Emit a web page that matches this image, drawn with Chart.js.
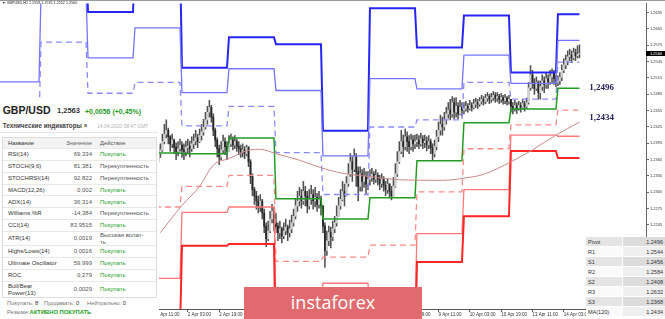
<!DOCTYPE html>
<html lang="ru">
<head>
<meta charset="utf-8">
<title>GBP/USD H1</title>
<script src="https://cdn.jsdelivr.net/npm/chart.js@4.4.1/dist/chart.umd.min.js"></script>
<style>
  html, body { margin: 0; padding: 0; background: #fff; }
  #wrap { position: relative; width: 665px; height: 319px; overflow: hidden; font-family: "Liberation Sans", Arial, sans-serif; }
  #chart { position: absolute; left: 0; top: 0; }
  .abs { position: absolute; white-space: nowrap; line-height: 1; }
  #topline { position: absolute; left: 0; top: 0; width: 665px; height: 1px; background: #999; }
  #ohlc { left: 2px; top: 2.3px; font-size: 3.7px; color: #222; }
  #panel { position: absolute; left: 0; top: 100px; width: 159px; height: 219px; background: #fff; }
  #pair { left: 2.7px; top: 5.3px; font-size: 10.5px; font-weight: bold; color: #222; }
  #quote { left: 57px; top: 7.3px; font-size: 7.5px; font-weight: bold; color: #333; }
  #change { left: 85px; top: 7.5px; font-size: 7px; font-weight: bold; color: #1e9b1e; }
  #techHead { left: 2.7px; top: 23.4px; font-size: 6.3px; font-weight: bold; color: #444; }
  #stamp { left: 97px; top: 23.5px; font-size: 5px; color: #b0b0b0; }
  #sep { position: absolute; left: 0; top: 32px; width: 158px; height: 1px; background: #e6e6e6; }
  #tbl { position: absolute; left: 2px; top: 36.5px; width: 154.5px; border: 1px solid #dcdcdc; box-sizing: border-box; }
  .row { position: relative; height: 11.8px; border-bottom: 1px solid #e8e8e8; box-sizing: border-box; font-size: 6px; }
  .row.head { background: #f3f3f3; color: #666; font-size: 5.8px; }
  .row.tall { height: 14.4px; }
  .row.tall2 { height: 15.7px; }
  .row:last-child { border-bottom: none; }
  .cell { position: absolute; top: 0; height: 100%; display: flex; align-items: center; white-space: pre-line; line-height: 1.1; }
  .c-name { left: 5px; color: #333; }
  .c-val { left: 40px; width: 49px; justify-content: flex-end; color: #555; }
  .c-act { left: 97px; color: #555; }
  .buy { color: #1f9e1f; }
  .foot { font-size: 5.8px; color: #777; }
  .foot b { color: #333; font-weight: normal; }
  #summary b { color: #21a021; font-weight: bold; }
  #piv { position: absolute; left: 586px; top: 237px; width: 79px; }
  .prow { position: relative; height: 10px; font-size: 5.5px; color: #333; }
  .prow span { position: absolute; top: 0; height: 100%; display: flex; align-items: center; box-sizing: border-box; border-bottom: 1px solid #fff; }
  .prow .pl { left: 0; width: 37px; padding-left: 2px; border-right: 1px solid #fff; }
  .prow .pv { left: 37px; width: 42px; justify-content: flex-end; padding-right: 2px; }
  .prow.odd .pl { background: #e4e4e4; }
  .prow.odd .pv { background: #dcdcdc; }
  .prow.even .pl { background: #fafafa; }
  .prow.even .pv { background: #efefef; }
  #logo { position: absolute; left: 244px; top: 287px; width: 178px; height: 32px; background: #e06a6d;
          color: #fff; font-family: "Open Sans", sans-serif; font-size: 18px; line-height: 31px; text-align: center; }
</style>
</head>
<body>
<div id="wrap">
  <canvas id="chart" width="665" height="319"></canvas>
  <div id="topline"></div>
  <div id="ohlc" class="abs"></div>
  <div id="panel">
    <div id="pair" class="abs">GBP/USD</div>
    <div id="quote" class="abs">1,2563</div>
    <div id="change" class="abs">+0,0056 (+0,45%)</div>
    <div id="techHead" class="abs">Технические индикаторы »</div>
    <div id="stamp" class="abs">14.04.2020 08:47 GMT</div>
    <div id="sep"></div>
    <div id="tbl"></div>
    <div class="abs foot" style="left:7px;top:200.8px">Покупать: <b>8</b></div>
    <div class="abs foot" style="left:44px;top:200.8px">Продавать: <b>0</b></div>
    <div class="abs foot" style="left:87px;top:200.8px">Нейтрально: <b>0</b></div>
    <div id="summary" class="abs foot" style="left:7px;top:210.1px">Резюме:<b>АКТИВНО ПОКУПАТЬ</b></div>
  </div>
  <div id="piv"></div>
  <div id="logo">instaforex</div>
</div>
<script>
// H1 bars, index 0 = 30 Mar 00:00, one index per trading hour
const firstBar = 60;
const lastBar = 275;
const firstOpen = 1.2370;

const closes = [
  1.2376, 1.2383, 1.2398, 1.2412, 1.2419, 1.2407, 1.2394, 1.2401, 1.2388, 1.2380, 1.2385, 1.2392,
  1.2383, 1.2380, 1.2387, 1.2390, 1.2385, 1.2394, 1.2399, 1.2405, 1.2398, 1.2409, 1.2416, 1.2425,
  1.2438, 1.2452, 1.2461, 1.2443, 1.2419, 1.2401, 1.2385, 1.2370, 1.2383, 1.2398, 1.2389, 1.2380,
  1.2394, 1.2401, 1.2392, 1.2398, 1.2390, 1.2385, 1.2380, 1.2383, 1.2376, 1.2387, 1.2361, 1.2334,
  1.2310, 1.2298, 1.2289, 1.2280, 1.2289, 1.2267, 1.2243, 1.2220, 1.2234, 1.2256, 1.2270, 1.2249,
  1.2243, 1.2231, 1.2238, 1.2225, 1.2234, 1.2241, 1.2231, 1.2238, 1.2249, 1.2261, 1.2280, 1.2289,
  1.2298, 1.2289, 1.2307, 1.2298, 1.2280, 1.2292, 1.2301, 1.2289, 1.2296, 1.2283, 1.2292, 1.2280,
  1.2243, 1.2198, 1.2216, 1.2231, 1.2223, 1.2238, 1.2249, 1.2261, 1.2280, 1.2292, 1.2307, 1.2298,
  1.2321, 1.2339, 1.2361, 1.2347, 1.2370, 1.2343, 1.2316, 1.2339, 1.2325, 1.2334, 1.2320, 1.2329,
  1.2332, 1.2338, 1.2329, 1.2336, 1.2329, 1.2321, 1.2329, 1.2318, 1.2310, 1.2320, 1.2307, 1.2299,
  1.2316, 1.2339, 1.2361, 1.2380, 1.2398, 1.2389, 1.2407, 1.2398, 1.2389, 1.2401, 1.2394, 1.2398,
  1.2401, 1.2394, 1.2403, 1.2396, 1.2399, 1.2392, 1.2398, 1.2387, 1.2376, 1.2389, 1.2407, 1.2419,
  1.2430, 1.2425, 1.2438, 1.2449, 1.2456, 1.2449, 1.2470, 1.2452, 1.2463, 1.2449, 1.2461, 1.2456,
  1.2459, 1.2463, 1.2459, 1.2465, 1.2461, 1.2467, 1.2470, 1.2467, 1.2472, 1.2476, 1.2472, 1.2478,
  1.2481, 1.2476, 1.2479, 1.2483, 1.2478, 1.2481, 1.2476, 1.2479, 1.2474, 1.2478, 1.2472, 1.2476,
  1.2463, 1.2458, 1.2465, 1.2459, 1.2465, 1.2461, 1.2468, 1.2463, 1.2470, 1.2497, 1.2521, 1.2507,
  1.2496, 1.2507, 1.2488, 1.2499, 1.2510, 1.2503, 1.2514, 1.2508, 1.2517, 1.2525, 1.2514, 1.2507,
  1.2510, 1.2516, 1.2529, 1.2539, 1.2547, 1.2554, 1.2557, 1.2552, 1.2561, 1.2556, 1.2559, 1.2560
];

const highs = [
  1.2389, 1.2394, 1.2412, 1.2430, 1.2438, 1.2423, 1.2409, 1.2412, 1.2403, 1.2396, 1.2398, 1.2403,
  1.2398, 1.2394, 1.2399, 1.2403, 1.2399, 1.2407, 1.2412, 1.2419, 1.2412, 1.2421, 1.2430, 1.2439,
  1.2452, 1.2463, 1.2474, 1.2465, 1.2449, 1.2423, 1.2405, 1.2392, 1.2398, 1.2410, 1.2405, 1.2398,
  1.2409, 1.2412, 1.2407, 1.2409, 1.2403, 1.2398, 1.2392, 1.2394, 1.2389, 1.2392, 1.2389, 1.2365,
  1.2339, 1.2314, 1.2307, 1.2298, 1.2301, 1.2292, 1.2274, 1.2249, 1.2252, 1.2270, 1.2283, 1.2278,
  1.2267, 1.2249, 1.2252, 1.2241, 1.2249, 1.2256, 1.2245, 1.2254, 1.2263, 1.2274, 1.2292, 1.2307,
  1.2314, 1.2310, 1.2325, 1.2316, 1.2307, 1.2310, 1.2318, 1.2310, 1.2314, 1.2303, 1.2307, 1.2298,
  1.2280, 1.2249, 1.2234, 1.2243, 1.2241, 1.2252, 1.2261, 1.2280, 1.2296, 1.2310, 1.2325, 1.2320,
  1.2334, 1.2358, 1.2376, 1.2370, 1.2385, 1.2376, 1.2352, 1.2352, 1.2347, 1.2349, 1.2343, 1.2343,
  1.2347, 1.2349, 1.2343, 1.2347, 1.2341, 1.2336, 1.2339, 1.2334, 1.2325, 1.2330, 1.2321, 1.2316,
  1.2332, 1.2358, 1.2380, 1.2398, 1.2419, 1.2410, 1.2421, 1.2416, 1.2409, 1.2412, 1.2409, 1.2410,
  1.2412, 1.2409, 1.2414, 1.2409, 1.2410, 1.2407, 1.2409, 1.2403, 1.2394, 1.2401, 1.2419, 1.2434,
  1.2447, 1.2443, 1.2452, 1.2461, 1.2470, 1.2476, 1.2481, 1.2478, 1.2479, 1.2470, 1.2474, 1.2470,
  1.2470, 1.2472, 1.2468, 1.2474, 1.2470, 1.2476, 1.2478, 1.2476, 1.2479, 1.2483, 1.2481, 1.2485,
  1.2488, 1.2485, 1.2487, 1.2490, 1.2488, 1.2488, 1.2485, 1.2487, 1.2483, 1.2485, 1.2481, 1.2483,
  1.2476, 1.2470, 1.2474, 1.2470, 1.2472, 1.2470, 1.2476, 1.2472, 1.2478, 1.2507, 1.2538, 1.2529,
  1.2514, 1.2517, 1.2510, 1.2510, 1.2521, 1.2517, 1.2525, 1.2521, 1.2529, 1.2532, 1.2529, 1.2521,
  1.2519, 1.2525, 1.2539, 1.2550, 1.2557, 1.2565, 1.2568, 1.2565, 1.2570, 1.2568, 1.2574, 1.2576
];

const lows = [
  1.2361, 1.2369, 1.2380, 1.2394, 1.2405, 1.2394, 1.2380, 1.2387, 1.2376, 1.2365, 1.2372, 1.2380,
  1.2369, 1.2365, 1.2372, 1.2378, 1.2370, 1.2380, 1.2385, 1.2392, 1.2387, 1.2396, 1.2401, 1.2410,
  1.2421, 1.2430, 1.2443, 1.2434, 1.2409, 1.2389, 1.2370, 1.2356, 1.2365, 1.2376, 1.2374, 1.2365,
  1.2380, 1.2389, 1.2383, 1.2385, 1.2380, 1.2374, 1.2369, 1.2370, 1.2367, 1.2372, 1.2352, 1.2321,
  1.2299, 1.2283, 1.2274, 1.2267, 1.2270, 1.2256, 1.2231, 1.2205, 1.2216, 1.2231, 1.2249, 1.2234,
  1.2231, 1.2216, 1.2220, 1.2212, 1.2220, 1.2227, 1.2216, 1.2223, 1.2231, 1.2243, 1.2256, 1.2270,
  1.2280, 1.2276, 1.2283, 1.2280, 1.2267, 1.2274, 1.2283, 1.2274, 1.2278, 1.2270, 1.2276, 1.2263,
  1.2231, 1.2167, 1.2189, 1.2207, 1.2203, 1.2216, 1.2231, 1.2243, 1.2261, 1.2274, 1.2289, 1.2280,
  1.2298, 1.2316, 1.2334, 1.2325, 1.2343, 1.2316, 1.2289, 1.2307, 1.2307, 1.2314, 1.2303, 1.2310,
  1.2318, 1.2325, 1.2320, 1.2323, 1.2318, 1.2310, 1.2314, 1.2307, 1.2299, 1.2303, 1.2296, 1.2291,
  1.2298, 1.2314, 1.2334, 1.2358, 1.2376, 1.2370, 1.2383, 1.2380, 1.2376, 1.2383, 1.2380, 1.2385,
  1.2389, 1.2385, 1.2390, 1.2385, 1.2387, 1.2381, 1.2385, 1.2376, 1.2365, 1.2370, 1.2383, 1.2398,
  1.2410, 1.2410, 1.2419, 1.2430, 1.2441, 1.2438, 1.2443, 1.2440, 1.2443, 1.2440, 1.2447, 1.2445,
  1.2449, 1.2454, 1.2452, 1.2456, 1.2454, 1.2458, 1.2461, 1.2459, 1.2463, 1.2467, 1.2465, 1.2468,
  1.2472, 1.2468, 1.2470, 1.2474, 1.2470, 1.2472, 1.2468, 1.2470, 1.2467, 1.2468, 1.2465, 1.2467,
  1.2452, 1.2449, 1.2454, 1.2450, 1.2456, 1.2452, 1.2458, 1.2454, 1.2459, 1.2467, 1.2492, 1.2496,
  1.2485, 1.2492, 1.2476, 1.2476, 1.2492, 1.2488, 1.2496, 1.2496, 1.2503, 1.2507, 1.2503, 1.2499,
  1.2501, 1.2503, 1.2510, 1.2525, 1.2532, 1.2539, 1.2547, 1.2543, 1.2548, 1.2547, 1.2552, 1.2552
];

// daily pivot levels: 27 Mar, 30 Mar, 31 Mar, 1 Apr, 2 Apr, 3 Apr, 6 Apr, 7 Apr, 8 Apr, 9 Apr, 10 Apr, 13 Apr, 14 Apr
const dayStarts = [-24, 0, 24, 48, 72, 96, 120, 144, 168, 192, 216, 240, 264];
const r3 = [null, 1.2761, 1.2636, 1.2736, 1.2534, 1.2590, 1.2577, 1.2418, 1.2643, 1.2571, 1.2630, 1.2525, 1.2632];
const r2 = [1.2508, 1.2670, 1.2552, 1.2607, 1.2488, 1.2532, 1.2492, 1.2372, 1.2514, 1.2495, 1.2557, 1.2505, 1.2584];
const r1 = [1.2434, 1.2581, 1.2487, 1.2507, 1.2427, 1.2463, 1.2378, 1.2301, 1.2425, 1.2438, 1.2507, 1.2476, 1.2544];
const pivot = [null, null, null, 1.2377, 1.2376, 1.2405, 1.2293, 1.2256, 1.2295, 1.2363, 1.2433, 1.2458, 1.2496];
const s1 = [null, null, null, 1.2278, 1.2316, 1.2336, 1.2178, 1.2186, 1.2208, 1.2306, 1.2385, 1.2429, 1.2456];
const s2 = [null, null, null, 1.2147, 1.2268, 1.2278, 1.2094, 1.2138, 1.2078, 1.2229, 1.2310, 1.2410, 1.2408];
const s3 = [null, null, null, 1.2049, 1.2207, 1.2210, 1.1980, 1.2069, 1.1991, 1.2177, 1.2261, 1.2381, 1.2368];

// MA(120) read at these bars
const maBars = [61, 72, 81, 88, 96, 107, 112, 120, 132, 144, 154, 168, 183, 205, 216, 226, 240, 251, 263, 275];
const maValues = [1.2231, 1.2281, 1.2316, 1.2355, 1.2367, 1.2383, 1.2384, 1.2376, 1.2364, 1.2349, 1.2340,
                  1.2334, 1.2328, 1.2327, 1.2331, 1.2338, 1.2361, 1.2383, 1.2410, 1.2434];

const yTicks = [1.2635, 1.2605, 1.2575, 1.2545, 1.2515, 1.2485, 1.2455, 1.2425, 1.2395, 1.2365,
                1.2335, 1.2305, 1.2275, 1.2245, 1.2215, 1.2185, 1.2155, 1.2125, 1.2095];
const xTickBars = [59, 75, 91, 107, 123, 139, 155, 171, 187, 203, 219, 235, 251, 267];
const xTickLabels = ['1 Apr 11:00', '2 Apr 03:00', '2 Apr 19:00', '3 Apr 11:00', '6 Apr 03:00', '6 Apr 19:00',
                     '7 Apr 11:00', '8 Apr 03:00', '8 Apr 19:00', '9 Apr 11:00', '10 Apr 03:00', '10 Apr 19:00',
                     '13 Apr 11:00', '14 Apr 03:00'];

const indNames = ['RSI(14)', 'STOCH(9,6)', 'STOCHRSI(14)', 'MACD(12,26)', 'ADX(14)', 'Williams %R', 'CCI(14)',
                  'ATR(14)', 'Highs/Lows(14)', 'Ultimate Oscillator', 'ROC', 'Bull/Bear\nPower(13)'];
const indValues = ['69,334', '81,381', '92,822', '0,002', '36,314', '-14,384', '83,9515', '0,0019', '0,0016',
                   '59,999', '0,279', '0,0029'];
const indActions = ['Покупать', 'Перекупленность', 'Перекупленность', 'Покупать', 'Покупать', 'Перекупленность',
                    'Покупать', 'Высокая волат-\nть', 'Покупать', 'Покупать', 'Покупать', 'Покупать'];

const opens = closes.map((c, k) => (k === 0 ? firstOpen : closes[k - 1]));
const last = closes.length - 1;

function buildPanel() {
    const tbl = document.getElementById('tbl');
    let html = '<div class="row head"><span class="cell c-name">Название</span>' +
        '<span class="cell c-val" style="color:#666">Значение</span><span class="cell c-act">Действие</span></div>';
    indNames.forEach((name, k) => {
        let cls = 'row';
        if (name.includes('\n')) cls += ' tall2';
        else if (indActions[k].includes('\n')) cls += ' tall';
        const buy = indActions[k] === 'Покупать' ? ' buy' : '';
        html += `<div class="${cls}"><span class="cell c-name">${name}</span>` +
            `<span class="cell c-val">${indValues[k]}</span>` +
            `<span class="cell c-act${buy}">${indActions[k]}</span></div>`;
    });
    tbl.innerHTML = html;

    const rows = [['Pivot', pivot], ['R1', r1], ['S1', s1], ['R2', r2], ['S2', s2], ['R3', r3], ['S3', s3]];
    let piv = '';
    rows.forEach(([name, arr], k) => {
        piv += `<div class="prow ${k % 2 ? 'even' : 'odd'}"><span class="pl">${name}</span>` +
            `<span class="pv">${arr[arr.length - 1].toFixed(4)}</span></div>`;
    });
    piv += `<div class="prow even"><span class="pl">MA(120)</span><span class="pv">${maValues[maValues.length - 1].toFixed(4)}</span></div>`;
    document.getElementById('piv').innerHTML = piv;

    document.getElementById('ohlc').textContent =
        `\u25BC GBPUSD,H1  ${opens[last].toFixed(4)} ${highs[last].toFixed(4)} ${lows[last].toFixed(4)} ${closes[last].toFixed(4)}`;
}

function levelPoints(values) {
    const pts = [];
    dayStarts.forEach((start, d) => {
        const end = d + 1 < dayStarts.length ? dayStarts[d + 1] - 1 : lastBar;
        pts.push({ x: start, y: values[d] }, { x: end, y: values[d] });
    });
    return pts;
}

function levelSet(values, color, width, dash) {
    return {
        type: 'line',
        data: levelPoints(values),
        borderColor: color,
        borderWidth: width,
        borderDash: dash || [],
        pointRadius: 0,
        fill: false,
        spanGaps: false,
        order: 1,
    };
}

const overlayPlugin = {
    id: 'overlay',
    afterDraw(chart) {
        const { ctx, chartArea } = chart;
        const xs = chart.scales.x;
        const ys = chart.scales.y;
        ctx.save();

        // current price marker on the price scale
        const py = ys.getPixelForValue(closes[last]);
        ctx.fillStyle = '#000';
        ctx.fillRect(chartArea.right, py - 2.5, 19, 5);
        ctx.fillStyle = '#fff';
        ctx.font = '4px "Liberation Sans", Arial, sans-serif';
        ctx.textBaseline = 'middle';
        ctx.textAlign = 'left';
        ctx.fillText(closes[last].toFixed(4), chartArea.right + 4, py + 0.2);

        // analyst notes next to pivot and MA
        ctx.font = 'bold 9px "Liberation Serif", "Times New Roman", serif';
        ctx.fillStyle = '#25255c';
        const notes = [[pivot[pivot.length - 1], -1], [maValues[maValues.length - 1], -4]];
        notes.forEach(([v, dy]) => {
            ctx.fillText(v.toFixed(4).replace('.', ','), xs.getPixelForValue(280), ys.getPixelForValue(v) + dy);
        });
        ctx.restore();
    },
};

function initChart() {
    Chart.defaults.font.family = '"Liberation Sans", Arial, sans-serif';

    const wickData = closes.map((c, k) => ({
        x: firstBar + k,
        y: [Math.min(lows[k], opens[k], c), Math.max(highs[k], opens[k], c)],
    }));
    const bodyData = closes.map((c, k) => ({ x: firstBar + k, y: [opens[k], c] }));
    const bodyColors = closes.map((c, k) => (c >= opens[k] ? '#d4d4d4' : '#262626'));

    new Chart(document.getElementById('chart'), {
        type: 'bar',
        data: {
            datasets: [
                { data: wickData, backgroundColor: '#505050', barThickness: 0.9, grouped: false, order: 3 },
                { data: bodyData, backgroundColor: bodyColors, barThickness: 1.2, grouped: false, order: 2 },
                {
                    type: 'line',
                    data: maBars.map((x, k) => ({ x, y: maValues[k] })),
                    borderColor: '#cc8886',
                    borderWidth: 1,
                    pointRadius: 0,
                    cubicInterpolationMode: 'monotone',
                    order: 1,
                },
                levelSet(s3, '#ff2626', 2),
                levelSet(s2, '#ff7878', 1.3),
                levelSet(s1, '#ff8a8a', 1.3, [6, 4]),
                levelSet(pivot, '#249c24', 1.5),
                levelSet(r1, '#8a8aff', 1.3, [6, 4]),
                levelSet(r2, '#7474ff', 1.3),
                levelSet(r3, '#2626f2', 2),
            ],
        },
        options: {
            responsive: false,
            animation: false,
            devicePixelRatio: 1,
            events: [],
            layout: { padding: 0 },
            plugins: {
                legend: { display: false },
                tooltip: { enabled: false },
            },
            scales: {
                x: {
                    type: 'linear',
                    position: 'bottom',
                    min: -20.94,
                    max: 308.99,
                    offset: false,
                    grid: { drawOnChartArea: false, offset: false, tickLength: 3, color: '#555' },
                    border: { color: '#555' },
                    ticks: {
                        autoSkip: false,
                        maxRotation: 0,
                        align: 'start',
                        padding: 0,
                        color: '#333',
                        font: { size: 4.5 },
                        callback: (v, i) => xTickLabels[i],
                    },
                    afterBuildTicks: (s) => { s.ticks = xTickBars.map((v) => ({ value: v })); },
                    afterFit: (s) => { s.height = 10; },
                },
                y: {
                    type: 'linear',
                    position: 'right',
                    min: 1.20907,
                    max: 1.2652,
                    grid: { drawOnChartArea: false, tickLength: 3, color: '#666' },
                    border: { color: '#666' },
                    ticks: {
                        padding: 1,
                        color: '#333',
                        font: { size: 4 },
                        callback: (v) => Number(v).toFixed(4),
                    },
                    afterBuildTicks: (s) => { s.ticks = yTicks.map((v) => ({ value: v })); },
                    afterFit: (s) => { s.width = 19; },
                },
            },
        },
        plugins: [overlayPlugin],
    });
}

buildPanel();
initChart();
</script>
</body>
</html>
